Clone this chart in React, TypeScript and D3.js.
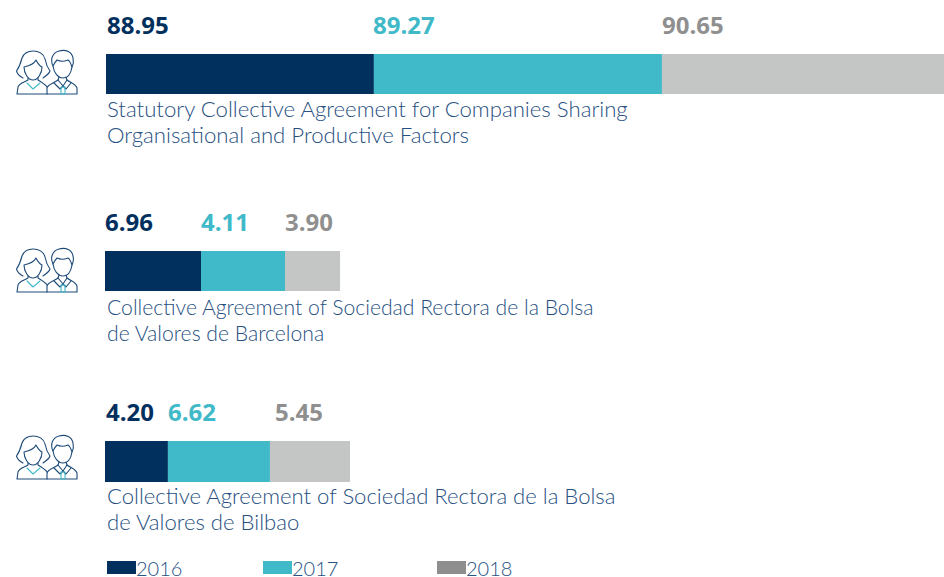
import * as d3 from 'd3';

const years = ['2016', '2017', '2018'];
const agreements = [
  ['Statutory Collective Agreement for Companies Sharing', 'Organisational and Productive Factors'],
  ['Collective Agreement of Sociedad Rectora de la Bolsa', 'de Valores de Barcelona'],
  ['Collective Agreement of Sociedad Rectora de la Bolsa', 'de Valores de Bilbao'],
];
// printed values
const printed = [
  ['88.95', '89.27', '90.65'],
  ['6.96', '4.11', '3.90'],
  ['4.20', '6.62', '5.45'],
];
// segment lengths as drawn: the source bars don't follow the printed numbers
const drawn = [
  [89, 95.7, 95],
  [31.9, 27.9, 18.3],
  [20.9, 33.9, 26.6],
];

const barColors = ['#012f5e', '#40b9c8', '#c4c6c5'];
const valueColors = ['#012f5e', '#40b9c8', '#8f8f8f'];
const legendColors = ['#012f5e', '#40b9c8', '#8e8e8e'];
const textColor = '#27507f';

const width = 944;
const height = 577;
const x = d3.scaleLinear().domain([0, 100]).range([0, 301]);
const rowY = [54, 251, 441];
const rowLeft = [106, 105, 105];
const valueLeft = [[107, 373, 662], [105, 201, 285], [106, 168, 275]];
const labelBase = [117, 315, 504];
const labelSize = [22.2, 21.15, 22.1];
const legendX = [107, 263, 437];

const People = ({ y }: { y: number }) => (
  <g transform={`translate(16,${y})`} fill="none" stroke="#1d4a78" strokeWidth={1.1} strokeLinejoin="round" strokeLinecap="round">
    {/* woman */}
    <path d="M7,28 C3,26 1,23 0.5,21 C4,16 5,12 6,8 C8,3 13,1 17,1 C23,1 28,4 29,9 C30,14 31,17 34,21 C33,24 30,26 27,28" />
    <path d="M8,17 C13,16 18,14 20,10 C22,14 24,16 26,17 C26,23 22,30 17,30 C12,30 8,23 8,17" />
    <path d="M12,28 L12,30 C9,32 3,33 2,37 L1,44 L31,44 M22,28 L22,30 C25,32 29,34 31,37" />
    <path d="M11,33 L17,39 L24,33" stroke="#40b9c8" />
    {/* man */}
    <path d="M37,16 C34,10 36,3 43,1 C50,-1 56,2 57,8 C58,12 57,15 56,17 C55,14 54,11 52,10 C47,12 43,11 41,10 C39,12 38,14 37,16" />
    <path d="M37,16 C38,23 42,28 47,28 C52,28 55,23 56,17" />
    <path d="M43,27 L42,30 C38,33 32,34 31,38 L31,44 L61,44 L61,38 C60,34 55,33 51,30 L50,27" />
    <path d="M42,30 L47,36 L51,30 M38,33 L44,39 L47,36 L50,39 L55,33" />
    <path d="M45,37 L49,37 L49,44 L45,44 Z" stroke="#40b9c8" />
  </g>
);

export default function App() {
  const iconY = [50, 248, 435];
  return (
    <svg width={width} height={height} style={{ position: 'absolute', left: 0, top: 0, background: '#fff' }}>
      {agreements.map((lines, r) => {
        const ends = Array.from(d3.cumsum(drawn[r]));
        return (
          <g key={r}>
            <People y={iconY[r]} />
            {drawn[r].map((_, i) => (
              <rect
                key={i}
                x={rowLeft[r] + x(i === 0 ? 0 : ends[i - 1])}
                y={rowY[r]}
                width={x(drawn[r][i])}
                height={r === 2 ? 41 : 40}
                fill={barColors[i]}
              />
            ))}
            {printed[r].map((v, i) => (
              <text
                key={i}
                x={valueLeft[r][i]}
                y={rowY[r] - 20}
                fontFamily="'Open Sans'"
                fontWeight={700}
                fontSize={24}
                fill={valueColors[i]}
              >
                {v}
              </text>
            ))}
            {lines.map((t, i) => (
              <text
                key={i}
                x={107}
                y={labelBase[r] + i * 26}
                fontFamily="Lato"
                fontWeight={300}
                fontSize={labelSize[r]}
                fill={textColor}
              >
                {t}
              </text>
            ))}
          </g>
        );
      })}
      {years.map((y, i) => (
        <g key={y}>
          <rect x={legendX[i]} y={561} width={29} height={13} fill={legendColors[i]} />
          <text x={legendX[i] + 29} y={576} fontFamily="Lato" fontWeight={300} fontSize={20} fill={textColor}>
            {y}
          </text>
        </g>
      ))}
    </svg>
  );
}
